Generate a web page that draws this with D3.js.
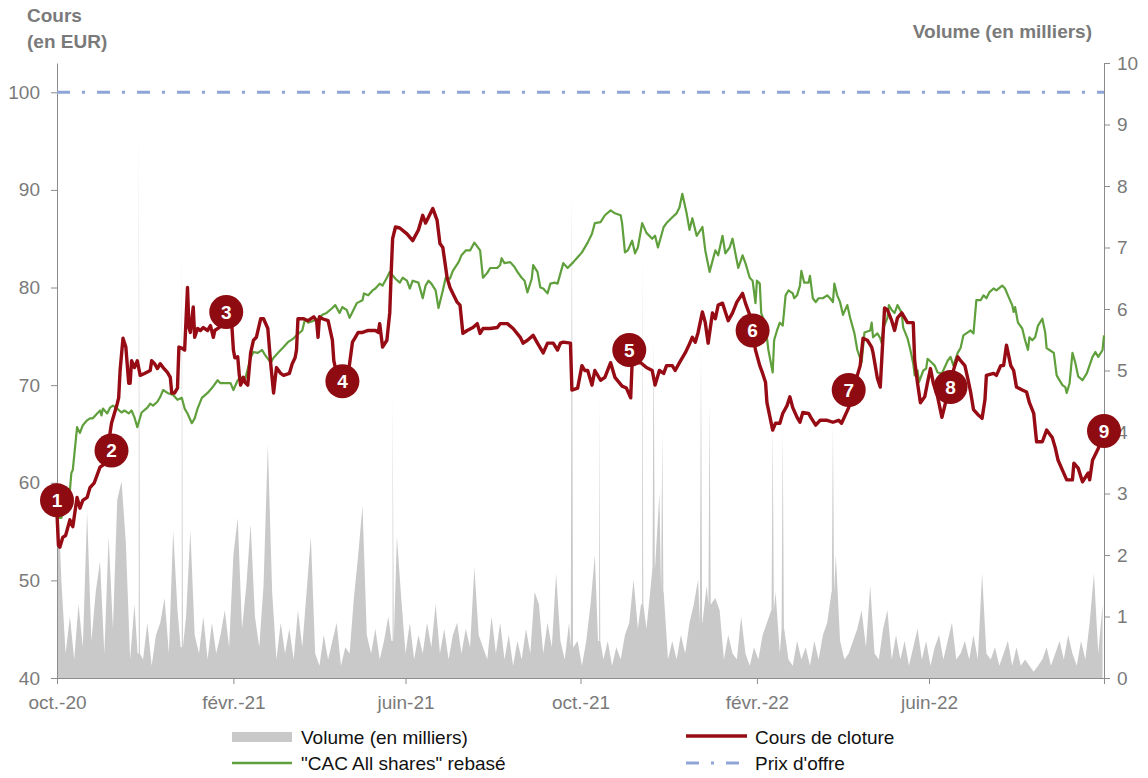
<!DOCTYPE html>
<html>
<head>
<meta charset="utf-8">
<script src="https://cdn.jsdelivr.net/npm/d3@7"></script>
<style>
  body { margin: 0; background: #fff; }
  text { font-family: "Liberation Sans", Arial, sans-serif; }
</style>
</head>
<body>
<script>
// --- data (day offsets from 1 oct. 2020) ---
var startDate = Date.UTC(2020, 9, 1)
var endDate = Date.UTC(2022, 9, 1)

var tickDates = [Date.UTC(2020,9,1), Date.UTC(2021,1,1), Date.UTC(2021,5,1), Date.UTC(2021,9,1),
                 Date.UTC(2022,1,1), Date.UTC(2022,5,1), Date.UTC(2022,9,1)]
var tickLabels = ["oct.-20", "févr.-21", "juin-21", "oct.-21", "févr.-22", "juin-22", ""]

var priceTicks = [40, 50, 60, 70, 80, 90, 100]
var volumeTicks = [0, 1, 2, 3, 4, 5, 6, 7, 8, 9, 10]

var offerPrice = 100

// Cours de cloture [day, EUR]
var closeSeries = [[0,56.8],[1,53.6],[2,53.4],[4,54.4],[6,54.6],[9,56.2],[11,55.5],[14,58.5],[16,57.4],[18,58.2],[21,58.5],[23,59.5],[26,60.0],[30,61.6],[32,61.8],[35,62.6],[37,65.1],[38,66.1],[42,68.1],[43,68.7],[44,71.5],[46,74.8],[48,73.9],[50,70.2],[51,70.2],[52,72.5],[54,71.8],[56,72.5],[58,71.0],[61,71.2],[65,71.5],[66,72.5],[68,72.2],[70,71.7],[72,72.2],[74,71.8],[77,71.3],[79,70.8],[80,69.2],[82,69.2],[84,69.7],[85,73.9],[87,73.8],[89,73.6],[91,80.0],[92,75.9],[93,75.4],[95,78.0],[96,74.9],[98,75.8],[100,75.6],[102,75.9],[105,75.6],[107,76.1],[109,74.9],[110,75.6],[114,76.0],[118,76.5],[122,75.9],[123,73.6],[124,72.8],[126,72.9],[127,71.2],[128,70.0],[130,70.8],[131,70.3],[133,70.0],[135,73.3],[137,74.6],[139,74.9],[142,76.8],[144,76.8],[147,75.8],[149,72.2],[151,69.2],[153,71.8],[156,71.2],[158,71.0],[162,71.2],[164,72.2],[166,72.8],[167,73.6],[168,76.8],[172,76.8],[175,76.6],[179,77.0],[181,76.6],[182,74.9],[183,77.0],[185,76.8],[189,76.6],[192,74.6],[193,72.5],[196,70.5],[199,70.0],[202,70.3],[204,72.2],[206,74.4],[208,74.9],[210,75.4],[213,75.4],[217,75.6],[222,75.6],[224,75.4],[225,76.3],[227,73.9],[230,74.6],[232,77.4],[233,81.5],[234,85.0],[236,86.2],[239,86.1],[244,85.5],[248,84.8],[252,85.9],[255,87.4],[257,86.6],[259,87.2],[262,88.1],[265,86.9],[267,84.5],[269,84.1],[272,81.0],[274,80.0],[276,79.4],[279,78.5],[281,78.2],[283,75.3],[286,75.6],[290,75.9],[293,76.3],[295,75.3],[297,75.8],[302,75.8],[307,75.9],[309,76.3],[314,76.3],[318,75.8],[323,74.9],[325,74.3],[328,74.6],[332,75.1],[335,74.3],[339,73.3],[342,74.3],[346,74.3],[349,73.6],[351,74.3],[353,74.4],[358,74.3],[359,69.5],[363,69.7],[366,72.0],[368,71.5],[370,71.5],[373,70.0],[375,71.5],[379,70.5],[382,70.8],[386,72.3],[389,70.8],[394,69.9],[397,69.7],[400,68.7],[401,72.3],[407,72.3],[411,71.8],[415,71.5],[417,70.0],[420,71.5],[423,71.2],[425,72.0],[429,72.0],[431,71.5],[434,72.3],[438,73.3],[440,73.9],[443,74.9],[445,74.4],[447,75.4],[450,77.5],[452,76.4],[454,74.3],[457,77.4],[459,76.8],[461,78.2],[464,78.4],[466,77.5],[468,76.6],[471,77.4],[474,78.5],[478,79.4],[480,78.4],[483,77.2],[487,73.6],[490,72.0],[492,71.2],[494,70.3],[495,68.2],[499,65.4],[501,66.1],[504,66.1],[506,67.1],[509,67.9],[511,68.8],[513,67.7],[516,66.7],[518,66.2],[520,67.2],[524,67.1],[526,66.6],[529,65.9],[532,66.4],[537,66.4],[541,66.2],[545,66.4],[547,66.1],[552,67.7],[556,70.0],[560,72.0],[562,74.8],[565,74.6],[568,73.9],[569,73.3],[572,70.7],[574,69.8],[577,77.9],[579,77.7],[582,76.6],[584,75.6],[586,76.9],[589,77.4],[593,76.4],[597,76.4],[598,72.5],[600,70.2],[602,68.2],[605,68.8],[607,70.3],[609,71.7],[611,70.2],[614,68.8],[617,66.7],[620,68.5],[623,70.5],[626,72.0],[628,72.9],[630,72.5],[633,72.0],[635,70.7],[637,69.3],[639,67.5],[642,67.0],[645,66.6],[647,68.5],[648,71.0],[653,71.2],[655,71.0],[658,72.0],[660,72.0],[662,74.1],[665,72.0],[667,71.5],[669,69.8],[673,69.5],[676,69.3],[678,68.2],[681,67.1],[683,64.2],[687,64.2],[690,65.4],[694,64.6],[696,63.6],[698,62.3],[701,61.3],[704,60.3],[708,60.3],[709,62.0],[712,61.5],[715,60.1],[719,61.0],[720,60.3],[722,62.3],[726,63.5],[730,65.3]]

// "CAC All shares" rebasé [day, value]
var cacSeries = [[0,56.4],[3,56.4],[8,58.2],[9,59.2],[10,61.0],[11,61.3],[14,65.7],[16,65.1],[18,65.9],[21,66.4],[23,66.6],[25,66.6],[28,67.1],[30,67.4],[31,66.9],[32,67.6],[35,67.1],[37,67.7],[39,67.9],[42,67.6],[45,67.2],[47,67.4],[50,67.1],[52,67.4],[54,66.7],[56,65.7],[59,67.2],[63,67.7],[65,68.1],[67,67.9],[70,68.3],[72,68.8],[74,69.5],[77,69.2],[81,69.0],[84,68.5],[87,68.7],[89,67.6],[91,67.1],[94,66.1],[96,66.6],[98,67.6],[101,68.7],[105,69.2],[108,69.7],[112,70.5],[114,70.2],[117,70.2],[121,70.2],[123,69.5],[126,70.5],[129,70.8],[131,70.5],[135,72.8],[137,73.4],[140,73.3],[143,73.6],[145,73.1],[149,72.3],[151,72.8],[154,73.3],[158,73.9],[161,74.4],[165,74.8],[167,75.1],[171,75.6],[173,76.8],[175,76.4],[179,76.6],[182,76.8],[185,77.2],[188,77.4],[192,77.9],[194,78.2],[197,77.4],[199,78.0],[202,77.7],[204,76.9],[206,77.5],[209,78.4],[213,78.7],[214,79.4],[217,79.2],[220,79.7],[222,79.9],[225,80.4],[227,80.2],[230,81.0],[232,81.6],[236,80.9],[239,80.5],[241,81.0],[244,80.7],[246,79.9],[248,80.7],[252,80.5],[255,78.9],[257,80.2],[259,80.7],[261,80.4],[264,79.7],[266,77.9],[269,79.7],[271,81.0],[274,80.9],[276,81.7],[280,82.6],[282,83.3],[285,83.8],[288,83.8],[291,84.6],[295,83.8],[297,81.0],[300,81.5],[302,82.0],[307,82.0],[309,82.3],[310,83.0],[312,82.5],[316,82.6],[319,82.1],[321,81.6],[324,81.0],[326,80.7],[328,79.5],[331,80.9],[332,82.3],[335,81.6],[337,80.0],[339,79.9],[342,79.4],[344,80.4],[347,80.5],[349,80.4],[353,82.5],[356,82.0],[360,82.6],[363,83.1],[366,83.6],[370,84.6],[373,85.5],[375,86.6],[379,86.7],[382,87.4],[386,87.9],[389,87.6],[393,87.4],[394,86.6],[396,83.6],[398,83.8],[401,84.8],[403,83.5],[405,84.1],[408,86.6],[411,85.6],[415,85.0],[417,85.3],[419,84.1],[423,86.2],[425,86.6],[429,87.2],[432,87.6],[434,88.2],[436,89.6],[439,87.6],[441,85.9],[443,87.1],[446,85.3],[450,86.2],[452,83.8],[455,81.6],[459,83.8],[461,83.3],[464,85.3],[466,83.5],[469,84.1],[471,85.0],[475,82.0],[478,83.3],[480,82.5],[483,81.0],[485,80.7],[487,78.4],[488,80.7],[490,80.4],[491,77.4],[494,76.1],[496,73.6],[499,71.3],[500,74.6],[502,75.6],[504,76.4],[506,76.1],[508,79.2],[510,79.7],[513,79.4],[514,78.9],[516,79.2],[518,80.2],[519,81.7],[521,80.5],[524,80.5],[525,81.2],[527,78.9],[529,78.5],[531,78.9],[534,78.9],[537,79.2],[539,78.9],[541,78.5],[542,80.4],[544,79.2],[546,78.5],[548,77.2],[551,78.2],[553,76.9],[556,75.3],[558,73.6],[561,72.3],[563,75.4],[567,75.6],[568,76.4],[569,74.9],[572,75.3],[574,74.8],[575,74.3],[576,75.8],[579,76.9],[580,78.2],[582,77.7],[584,77.4],[586,78.2],[589,77.4],[590,75.9],[593,74.8],[595,73.6],[597,72.2],[598,71.0],[600,71.5],[601,70.3],[604,71.5],[606,71.7],[607,72.7],[610,72.3],[612,72.0],[614,71.3],[617,71.2],[621,72.5],[623,72.9],[625,72.0],[628,73.3],[630,73.8],[632,75.1],[635,75.4],[637,75.6],[639,75.3],[641,78.7],[644,78.7],[646,79.2],[648,78.9],[650,79.5],[653,79.9],[655,79.7],[659,80.2],[661,79.9],[663,79.2],[666,78.2],[667,77.5],[668,78.0],[670,76.4],[673,75.8],[675,74.6],[677,73.6],[678,74.9],[680,74.6],[682,74.9],[684,76.1],[687,76.8],[689,75.4],[690,73.8],[692,73.6],[695,73.3],[697,71.0],[701,70.0],[703,69.8],[704,69.2],[706,70.2],[708,73.3],[710,72.3],[712,70.9],[715,70.5],[718,71.2],[722,72.9],[724,73.4],[726,72.9],[729,73.6],[730,75.1]]

// Volume (en milliers), one value every 3 days
var volumeStep = 3
var volumeValues = [3.4,1.6,0.4,1.0,0.3,1.2,0.5,2.7,0.6,1.4, 1.9,0.4,2.3,0.8,2.9,3.2,2.2,0.3,1.2,0.4,
  0.3,0.9,0.2,0.7,0.9,1.3,0.4,2.4,1.1,0.5, 1.0,2.4,0.7,0.4,1.0,0.3,0.9,0.4,0.7,1.1,
  0.5,2.0,2.6,0.8,1.5,2.5,1.0,0.5,1.5,3.8, 1.4,0.3,0.9,0.4,0.8,0.3,1.1,0.5,1.4,2.3,
  0.4,0.2,0.7,0.3,0.6,0.9,0.2,0.5,0.4,1.3, 2.0,2.8,0.7,0.4,0.8,0.3,0.6,1.0,0.6,2.3,
  1.3,0.4,0.9,0.3,0.7,0.4,0.9,0.5,1.2,0.4, 0.8,0.3,0.7,0.9,0.4,0.8,0.5,1.8,0.7,0.5,
  0.3,1.0,0.4,0.9,0.3,0.7,0.2,0.6,0.3,0.8, 0.4,1.4,1.2,0.4,0.9,0.5,1.7,0.6,0.3,0.9,
  0.5,0.6,0.2,0.6,1.2,2.0,0.6,0.3,0.6,0.2, 0.5,0.3,0.7,0.9,1.6,0.8,1.2,0.8,1.5,1.8,
  3.0,1.4,0.3,0.6,0.3,0.7,0.4,0.9,1.2,1.6, 0.9,1.5,1.2,1.3,1.1,0.3,0.7,0.4,0.3,1.0,
  0.4,0.2,0.5,0.3,0.7,0.9,1.1,1.4,0.4,0.8, 0.3,0.2,0.6,0.3,0.5,0.2,0.6,0.3,0.7,0.9,
  1.4,2.0,0.6,0.3,0.4,0.6,0.8,1.1,0.5,1.5, 0.4,0.3,0.8,1.1,0.3,0.7,0.3,0.6,0.2,0.5,
  0.8,0.3,0.6,0.2,0.5,0.7,0.3,0.6,0.9,0.3, 0.4,0.6,0.3,0.7,0.3,1.7,0.4,0.3,0.5,0.2,
  0.4,0.6,0.2,0.5,0.2,0.3,0.2,0.1,0.2,0.3, 0.5,0.2,0.4,0.6,0.3,0.7,0.4,0.2,0.6,0.3,
  0.9,1.7,0.4,1.2]

// one-day volume peaks
var volumeSpikeDays = [57, 87, 234, 359, 378, 408, 416, 422, 449, 455, 499, 506, 541]
var volumeSpikeValues = [9.0, 7.0, 4.6, 7.9, 4.6, 6.9, 5.5, 4.0, 5.3, 4.5, 4.1, 4.0, 4.1]

// numbered markers on the closing price
var markerDays = [0, 38, 118, 199, 399, 485, 552, 623, 730]
var markerValues = [58.2, 63.3, 77.5, 70.4, 73.6, 75.6, 69.5, 69.8, 65.3]
var markerLabels = ["1", "2", "3", "4", "5", "6", "7", "8", "9"]

// --- drawing ---
var W = 1148, H = 778
var plotL = 57, plotR = 1104, plotT = 63, plotB = 678
var red = "#960b14", green = "#5f9f3c", blue = "#8fa5d8", grey = "#c9c9c9"
var axisCol = "#8c8c8c", textCol = "#7a7a7a"

function dayToDate(d) { return new Date(startDate + d * 864e5) }

var x = d3.scaleUtc().domain([new Date(startDate), new Date(endDate)]).range([plotL, plotR])
var y = d3.scaleLinear().domain([40, 103]).range([plotB, plotT])
var yV = d3.scaleLinear().domain([0, 10]).range([plotB, plotT])

var svg = d3.select("body").append("svg")
    .attr("width", W)
    .attr("height", H)

// volume area
var vol = volumeValues.map(function(v, i) { return [i * volumeStep, v] })
volumeSpikeDays.forEach(function(d, i) {
  var low = volumeValues[Math.min(volumeValues.length - 1, Math.round(d / volumeStep))]
  vol.push([d - 0.8, low], [d, volumeSpikeValues[i]], [d + 0.8, low])
})
vol.sort(function(a, b) { return a[0] - b[0] })

svg.append("path")
    .datum(vol)
    .attr("fill", grey)
    .attr("d", d3.area()
      .x(function(d) { return x(dayToDate(d[0])) })
      .y0(yV(0))
      .y1(function(d) { return yV(d[1]) }))

// axes
function styleAxis(g) {
  g.selectAll("path, line").attr("stroke", axisCol)
  g.selectAll("text").attr("fill", textCol).style("font-size", "19px")
    .style("font-family", "'Liberation Sans', Arial, sans-serif")
}

svg.append("g")
    .attr("transform", "translate(" + plotL + ",0)")
    .call(d3.axisLeft(y).tickValues(priceTicks).tickSize(6).tickPadding(11).tickSizeOuter(0))
    .call(styleAxis)

svg.append("g")
    .attr("transform", "translate(" + plotR + ",0)")
    .call(d3.axisRight(yV).tickValues(volumeTicks).tickSize(6).tickPadding(7).tickSizeOuter(0))
    .call(styleAxis)

svg.append("g")
    .attr("transform", "translate(0," + plotB + ")")
    .call(d3.axisBottom(x).tickValues(tickDates.map(function(t) { return new Date(t) }))
      .tickFormat(function(d, i) { return tickLabels[i] })
      .tickSize(6).tickPadding(12).tickSizeOuter(0))
    .call(styleAxis)

// offer price
svg.append("line")
    .attr("x1", x(new Date(startDate)))
    .attr("x2", x(new Date(endDate)))
    .attr("y1", y(offerPrice))
    .attr("y2", y(offerPrice))
    .attr("stroke", blue)
    .attr("stroke-width", 3)
    .attr("stroke-dasharray", "13,12,3,12")

var line = d3.line()
    .x(function(d) { return x(dayToDate(d[0])) })
    .y(function(d) { return y(d[1]) })

svg.append("path")
    .datum(cacSeries)
    .attr("fill", "none")
    .attr("stroke", green)
    .attr("stroke-width", 2.2)
    .attr("stroke-linejoin", "round")
    .attr("d", line)

svg.append("path")
    .datum(closeSeries)
    .attr("fill", "none")
    .attr("stroke", red)
    .attr("stroke-width", 3.4)
    .attr("stroke-linejoin", "round")
    .attr("d", line)

// markers
var mk = svg.selectAll(".marker")
    .data(markerDays)
    .enter()
    .append("g")
      .attr("class", "marker")
      .attr("transform", function(d, i) {
        return "translate(" + x(dayToDate(d)) + "," + y(markerValues[i]) + ")"
      })
mk.append("circle")
    .attr("r", 17)
    .attr("fill", "#8e0b12")
mk.append("text")
    .attr("text-anchor", "middle")
    .attr("dy", "0.36em")
    .attr("fill", "#fff")
    .style("font-size", "19px")
    .style("font-weight", "bold")
    .text(function(d, i) { return markerLabels[i] })

// titles
svg.append("text").attr("x", 27).attr("y", 22)
    .attr("fill", textCol).style("font-size", "19px").style("font-weight", "bold")
    .text("Cours")
svg.append("text").attr("x", 27).attr("y", 48)
    .attr("fill", textCol).style("font-size", "19px").style("font-weight", "bold")
    .text("(en EUR)")
svg.append("text").attr("x", 1092).attr("y", 38)
    .attr("text-anchor", "end")
    .attr("fill", textCol).style("font-size", "19px").style("font-weight", "bold")
    .text("Volume (en milliers)")

// legend
var lg = svg.append("g").style("font-size", "19px").attr("fill", "#111")
lg.append("rect").attr("x", 232).attr("y", 732).attr("width", 60).attr("height", 10).attr("fill", grey)
lg.append("text").attr("x", 301).attr("y", 744).text("Volume (en milliers)")
lg.append("line").attr("x1", 232).attr("x2", 292).attr("y1", 763).attr("y2", 763)
    .attr("stroke", green).attr("stroke-width", 2.5)
lg.append("text").attr("x", 301).attr("y", 770).text("\"CAC All shares\" rebasé")
lg.append("line").attr("x1", 686).attr("x2", 747).attr("y1", 736).attr("y2", 736)
    .attr("stroke", red).attr("stroke-width", 3.4)
lg.append("text").attr("x", 755).attr("y", 744).text("Cours de cloture")
lg.append("line").attr("x1", 686).attr("x2", 747).attr("y1", 763).attr("y2", 763)
    .attr("stroke", blue).attr("stroke-width", 3).attr("stroke-dasharray", "13,12,3,12")
lg.append("text").attr("x", 755).attr("y", 770).text("Prix d'offre")
</script>
</body>
</html>
